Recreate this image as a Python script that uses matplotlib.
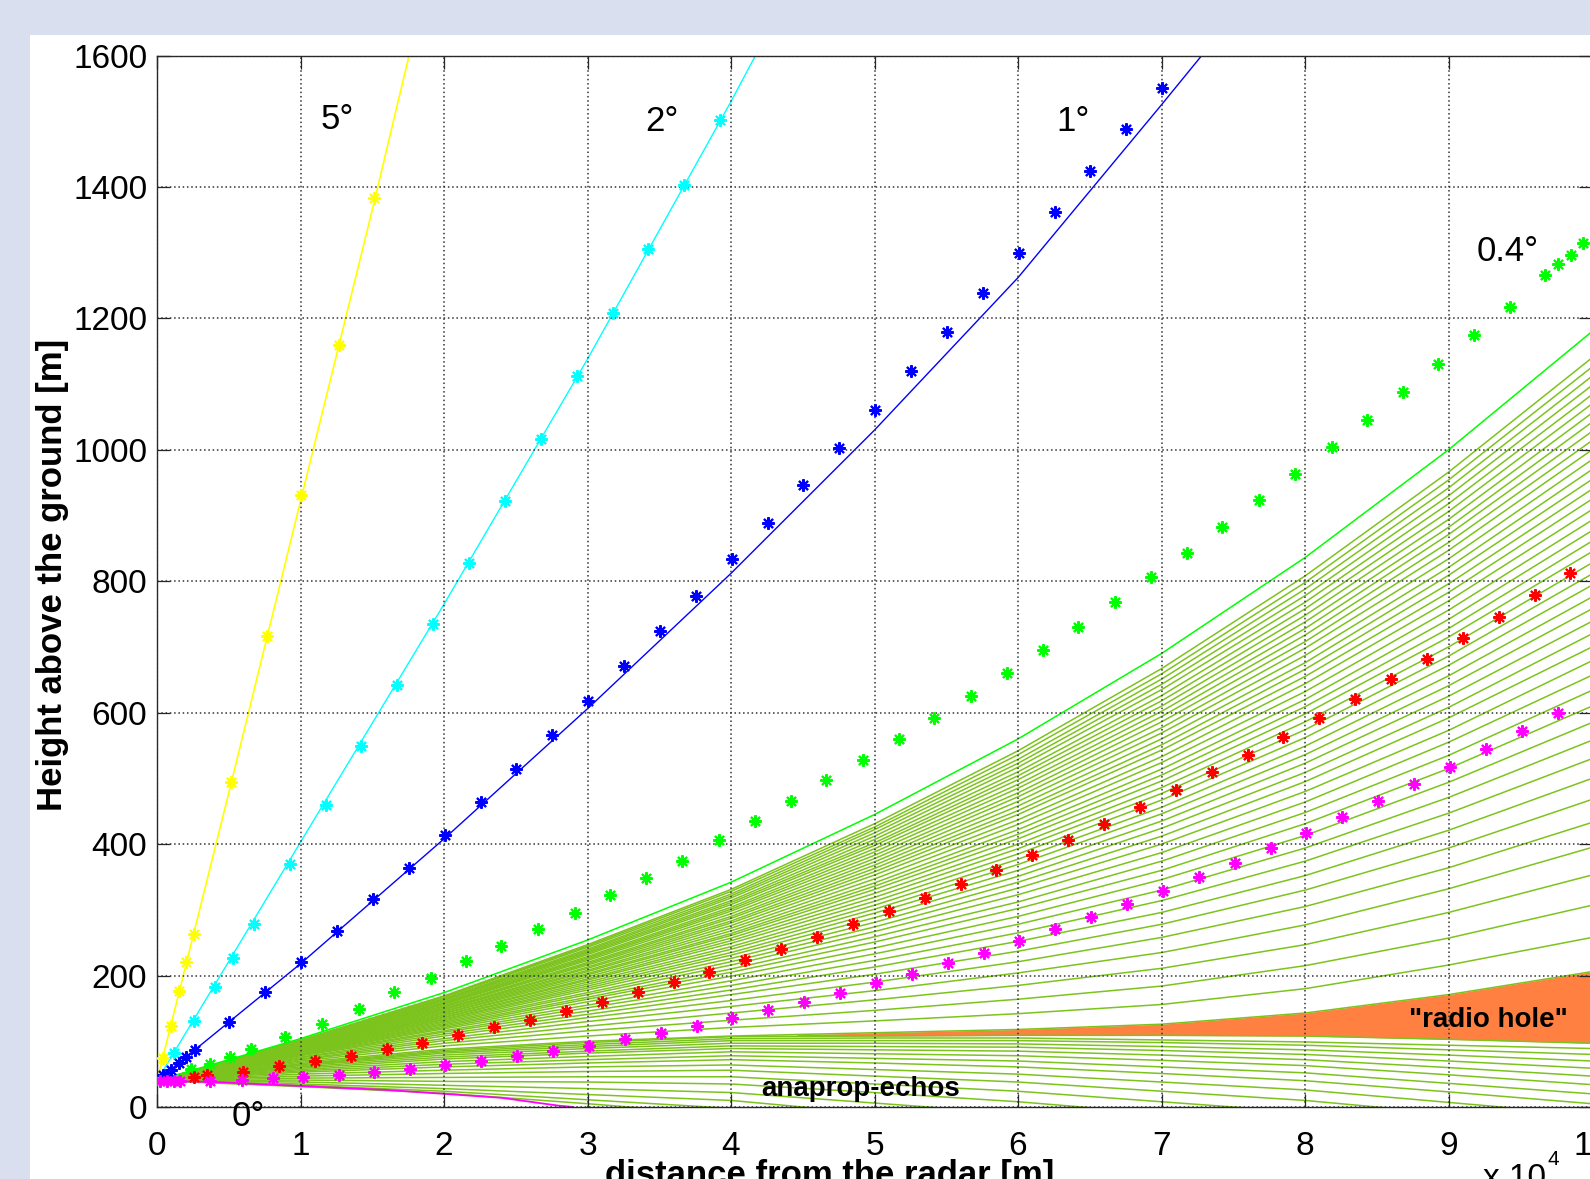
import numpy as np
import matplotlib
matplotlib.use('Agg')
import matplotlib.pyplot as plt
from matplotlib.patches import Rectangle

plt.rcParams['font.family'] = ['Liberation Sans', 'DejaVu Sans']

# all heights in m above ground, distances in m from the radar
launch_height = 40

# lines (refraction with the measured profile)
dist_5deg = [0, 5000, 10000, 15000, 18000]
line_5deg = [40, 478, 922, 1365, 1640]
dist_2deg = [0, 10000, 20000, 30000, 40000, 42000]
line_2deg = [40, 403, 765, 1138, 1530, 1612]
dist_1deg = [0, 10000, 20000, 30000, 40000, 50000, 60000, 70000, 74000]
line_1deg = [40, 218, 408, 606, 812, 1030, 1262, 1525, 1632]
dist_04deg = [0, 10000, 20000, 30000, 40000, 50000, 60000, 70000, 80000, 90000, 100000]
line_04deg = [40, 104, 174, 254, 342, 445, 560, 690, 836, 1000, 1180]
dist_0deg = [0, 4000, 8000, 12000, 16000, 20000, 24000, 28000, 29000]
line_0deg = [40, 38, 34, 30, 26, 20, 14, 2, 0]

# fan of rays between 0 and 0.4 deg: 17 trapped rays, then 44 escaping rays
fan_dist = [0, 10000, 20000, 30000, 40000, 50000, 60000, 70000, 80000, 90000, 100000]
fan_h10 = [31, 33, 35, 38, 41, 44, 47, 50, 53, 55, 57, 59, 61, 63, 64, 65, 66,
           68, 70, 72, 73, 75, 76, 78, 79, 80, 81, 82, 83, 84, 84, 85, 86, 87, 87,
           88, 89, 89, 90, 91, 91, 92, 92, 93, 94, 94, 95, 95, 96, 96, 97, 97, 98,
           98, 99, 99, 100, 100, 101, 101, 102]
fan_h20 = [21, 24, 28, 33, 39, 45, 51, 56, 61, 65, 69, 73, 76, 79, 82, 84, 86,
           88, 93, 97, 101, 104, 108, 111, 114, 116, 119, 121, 123, 125, 127, 129,
           131, 133, 134, 136, 137, 139, 140, 142, 143, 145, 146, 148, 149, 150, 152,
           153, 154, 156, 157, 158, 159, 160, 162, 163, 164, 165, 167, 168, 169]
fan_h30 = [5, 11, 19, 28, 38, 46, 54, 61, 67, 72, 77, 82, 85, 89, 92, 95, 98,
           100, 108, 116, 123, 130, 136, 141, 146, 151, 155, 160, 164, 167, 171, 174,
           178, 181, 184, 187, 190, 193, 195, 198, 201, 203, 206, 208, 211, 213, 216,
           218, 220, 223, 225, 227, 229, 232, 234, 236, 238, 240, 243, 245, 247]
fan_h40 = [-12, -2, 10, 22, 35, 46, 56, 64, 72, 78, 84, 89, 93, 97, 101, 104, 107,
           108, 121, 132, 143, 153, 162, 171, 178, 185, 192, 199, 205, 210, 216, 221,
           226, 231, 235, 240, 244, 249, 253, 257, 261, 264, 268, 272, 276, 280, 283,
           287, 290, 294, 298, 301, 304, 308, 311, 314, 318, 321, 324, 328, 331]
fan_h50 = [-31, -21, -10, 6, 22, 35, 47, 57, 67, 74, 81, 87, 92, 97, 101, 105, 108,
           113, 131, 147, 163, 177, 190, 202, 213, 223, 233, 242, 251, 259, 267, 274,
           281, 288, 295, 301, 307, 313, 319, 325, 331, 336, 341, 347, 353, 358, 363,
           368, 373, 378, 383, 388, 393, 398, 402, 407, 412, 417, 422, 426, 431]
fan_h60 = [-50, -40, -30, -10, 8, 24, 38, 50, 61, 70, 78, 85, 91, 96, 101, 105, 109,
           118, 142, 164, 185, 204, 221, 237, 252, 265, 278, 290, 302, 312, 323, 333,
           342, 351, 360, 369, 377, 385, 393, 400, 408, 415, 422, 430, 437, 445, 451,
           458, 465, 472, 478, 485, 491, 498, 504, 510, 517, 523, 529, 536, 542]
fan_h70 = [-70, -60, -50, -30, -10, 8, 24, 38, 51, 61, 71, 79, 86, 92, 98, 102, 109,
           126, 156, 184, 211, 235, 258, 278, 296, 314, 330, 346, 360, 374, 387, 400,
           412, 424, 435, 446, 456, 467, 477, 486, 496, 505, 514, 524, 533, 543, 551,
           560, 569, 577, 586, 594, 602, 610, 618, 626, 635, 643, 651, 659, 667]
fan_h80 = [-90, -80, -70, -50, -28, -8, 10, 26, 40, 52, 63, 72, 80, 87, 94, 99, 108,
           143, 180, 215, 247, 277, 305, 330, 352, 374, 394, 413, 431, 448, 464, 480,
           495, 509, 523, 536, 549, 562, 574, 586, 598, 609, 620, 632, 644, 655, 666,
           676, 687, 698, 708, 718, 728, 738, 748, 758, 768, 778, 788, 798, 808]
fan_h90 = [-110, -100, -90, -70, -49, -29, -10, 7, 23, 36, 49, 60, 70, 79, 87, 94, 103,
           171, 216, 257, 296, 332, 364, 394, 421, 447, 471, 494, 515, 535, 555, 573,
           592, 608, 625, 641, 656, 672, 686, 700, 715, 728, 742, 756, 770, 783, 796,
           809, 821, 834, 847, 859, 871, 882, 894, 906, 918, 930, 942, 954, 966]
fan_h100 = [-130, -120, -110, -90, -70, -50, -30, -12, 5, 20, 34, 47, 59, 70, 80, 89, 97,
            206, 258, 307, 353, 395, 433, 468, 500, 530, 558, 585, 610, 634, 657, 679,
            700, 720, 739, 758, 776, 794, 811, 828, 845, 861, 877, 893, 909, 925, 940,
            955, 970, 985, 1000, 1014, 1028, 1042, 1056, 1070, 1084, 1098, 1112, 1126, 1140]

# "radio hole" between trapped and escaping rays
hole_x = [44600, 50000, 60000, 70000, 80000, 90000, 100000]
hole_top = [110, 113, 118, 126, 143, 171, 206]
hole_bottom = [108, 108, 109, 109, 108, 103, 97]

# stars: standard atmosphere
star_5deg_x = [400, 950, 1550, 2050, 2550, 5150, 7650, 10050, 12650, 15150]
star_5deg_y = [75, 123, 176, 220, 264, 495, 716, 932, 1160, 1383]
star_2deg_x = [1200, 2600, 4050, 5300, 6750, 9250, 11750, 14250, 16750, 19250, 21750,
               24250, 26750, 29250, 31750, 34250, 36750, 39250]
star_2deg_y = [82, 131, 182, 227, 279, 369, 459, 550, 642, 735, 828, 922, 1017, 1112,
               1208, 1305, 1403, 1502]
star_1deg_x = [450, 950, 1550, 2050, 2650, 5050, 7550, 10050, 12550, 15050, 17550, 20050,
               22550, 25050, 27550, 30050, 32550, 35050, 37550, 40050, 42550, 45050,
               47550, 50050, 52550, 55050, 57550, 60050, 62550, 65050, 67550, 70050]
star_1deg_y = [48, 57, 67, 76, 87, 130, 175, 221, 268, 316, 364, 414, 464, 514, 566, 618,
               671, 724, 778, 834, 889, 946, 1003, 1061, 1120, 1179, 1239, 1300, 1362,
               1424, 1488, 1551]
star_04deg_x = [2400, 3700, 5100, 6550, 8950, 11500, 14050, 16550, 19100, 21550, 24000,
                26550, 29100, 31600, 34100, 36600, 39150, 41650, 44150, 46650, 49200,
                51700, 54150, 56700, 59200, 61750, 64200, 66750, 69250, 71800, 74250,
                76800, 79300, 81850, 84300, 86800, 89250, 91750, 94300, 96700, 97650,
                98550, 99400]
star_04deg_y = [58, 65, 76, 88, 106, 127, 149, 175, 197, 222, 245, 271, 295, 322, 349,
                375, 406, 435, 466, 497, 528, 560, 592, 625, 660, 695, 731, 768, 806, 843,
                883, 923, 963, 1005, 1046, 1088, 1131, 1175, 1218, 1266, 1282, 1297, 1314]
star_01deg_x = [2600, 3500, 6000, 8500, 11000, 13500, 16000, 18500, 21000, 23500, 26000,
                28500, 31000, 33500, 36000, 38500, 41000, 43500, 46000, 48500, 51000,
                53500, 56000, 58500, 61000, 63500, 66000, 68500, 71000, 73500, 76000,
                78500, 81000, 83500, 86000, 88500, 91000, 93500, 96000, 98500]
star_01deg_y = [46, 48, 54, 62, 70, 78, 88, 98, 109, 121, 133, 146, 160, 175, 190, 206,
                223, 241, 259, 278, 298, 318, 339, 361, 384, 407, 431, 456, 482, 509, 536,
                563, 592, 621, 651, 682, 714, 746, 779, 813]
star_0deg_x = [200, 700, 1150, 1600, 3700, 5900, 8100, 10200, 12650, 15100, 17600, 20100,
               22600, 25100, 27600, 30100, 32600, 35100, 37600, 40100, 42600, 45100,
               47600, 50100, 52600, 55100, 57600, 60100, 62600, 65100, 67600, 70100,
               72600, 75100, 77600, 80100, 82600, 85100, 87600, 90100, 92600, 95100, 97600]
star_0deg_y = [40, 40, 40, 40, 40, 41, 44, 46, 49, 53, 58, 64, 70, 77, 85, 93, 103, 113,
               123, 135, 147, 160, 173, 188, 203, 219, 235, 253, 271, 289, 309, 329, 350,
               372, 394, 417, 441, 466, 491, 518, 544, 572, 600]

x_ticks = np.arange(0, 100001, 10000)
x_tick_labels = ['0', '1', '2', '3', '4', '5', '6', '7', '8', '9', '10']
y_ticks = np.arange(0, 1601, 200)

fan_color = '#7DC31E'
star = (8, 2, 0)

fig = plt.figure(figsize=(15.9, 11.79), dpi=100, facecolor='#D9DFEE')
fig.add_artist(Rectangle((30 / 1590, 0), 1, 1 - 35 / 1179, transform=fig.transFigure,
                         facecolor='white', edgecolor='none', zorder=0))
ax = fig.add_axes([157 / 1590, 1 - 1107 / 1179, 1435 / 1590, 1051.5 / 1179])

ax.fill_between(hole_x, hole_bottom, hole_top, color='#FF8040', lw=0, zorder=1.5)

fan = np.column_stack([np.full(len(fan_h10), launch_height), fan_h10, fan_h20, fan_h30,
                       fan_h40, fan_h50, fan_h60, fan_h70, fan_h80, fan_h90, fan_h100])
for ray in fan:
    ax.plot(fan_dist, ray, color=fan_color, lw=1.1, zorder=2)

ax.plot(dist_04deg, line_04deg, color='#00FF00', lw=1.1, zorder=2.1)
ax.plot(dist_0deg, line_0deg, color='#FF00FF', lw=1.3, zorder=2.1)
ax.plot(dist_1deg, line_1deg, color='#0000FF', lw=1.0, zorder=2.1)
ax.plot(dist_2deg, line_2deg, color='#00FFFF', lw=1.0, zorder=2.1)
ax.plot(dist_5deg, line_5deg, color='#FFFF00', lw=1.2, zorder=2.1)

for xs, ys, c in [(star_5deg_x, star_5deg_y, '#FFFF00'),
                  (star_2deg_x, star_2deg_y, '#00FFFF'),
                  (star_1deg_x, star_1deg_y, '#0000FF'),
                  (star_04deg_x, star_04deg_y, '#00FF00'),
                  (star_01deg_x, star_01deg_y, '#FF0000'),
                  (star_0deg_x, star_0deg_y, '#FF00FF')]:
    ax.plot(xs, ys, ls='none', marker=star, ms=9, mec=c, mew=1.5, zorder=3)

ax.set_xlim(0, 100000)
ax.set_ylim(0, 1600)
ax.set_xticks(x_ticks)
ax.set_xticklabels(x_tick_labels)
ax.set_yticks(y_ticks)
ax.grid(True, color='#333333', lw=1.1, ls=(0, (1, 1.8)))
ax.set_axisbelow(False)
ax.tick_params(direction='in', length=9.5, width=0.9, top=True, right=True,
               labelsize=24, color='#262626')
ax.tick_params(axis='x', pad=17)
ax.tick_params(axis='y', pad=7)
for s in ax.spines.values():
    s.set_color('#262626')
    s.set_linewidth(1.0)

ax.text(12560, 1503, '5°', fontsize=25, ha='center', va='center')
ax.text(35170, 1500, '2°', fontsize=25, ha='center', va='center')
ax.text(63850, 1500, '1°', fontsize=25, ha='center', va='center')
ax.text(94140, 1302, '0.4°', fontsize=25, ha='center', va='center')
ax.text(6350, -14, '0°', fontsize=25, ha='center', va='center', clip_on=False, zorder=5)
ax.text(49060, 17, 'anaprop-echos', fontsize=20, fontweight='bold', ha='center',
        va='baseline', zorder=5)
ax.text(92800, 122, '"radio hole"', fontsize=20, fontweight='bold', ha='center',
        va='baseline', zorder=5)

fig.text(53 / 1590, 1 - 575 / 1179, 'Height above the ground [m]', rotation=90,
         fontsize=25, fontweight='bold', ha='center', va='center')
fig.text(830 / 1590, 1 - 1185 / 1179, 'distance from the radar [m]', fontsize=25,
         fontweight='bold', ha='center', va='baseline')
fig.text(1483 / 1590, 1 - 1187 / 1179, 'x 10', fontsize=24, va='baseline')
fig.text(1548 / 1590, 1 - 1165 / 1179, '4', fontsize=15, va='baseline')

fig.savefig('out.png', dpi=100, facecolor=fig.get_facecolor())
